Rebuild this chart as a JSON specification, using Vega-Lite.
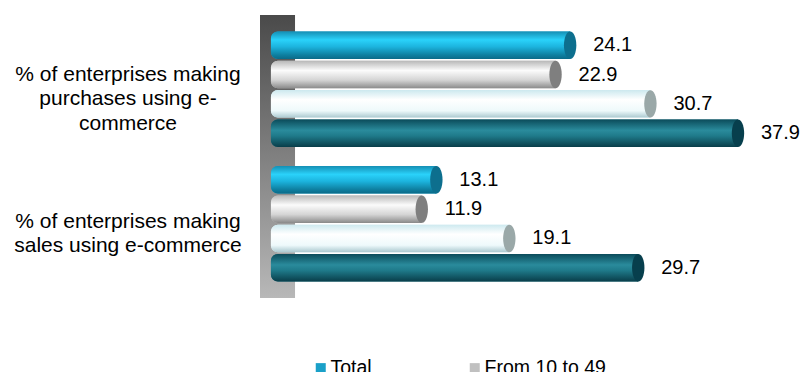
{
  "$schema": "https://vega.github.io/schema/vega-lite/v6.json",
  "width": 540,
  "height": 283,
  "autosize": {"type": "none"},
  "padding": {"left": 260, "top": 15, "right": 2, "bottom": 74},
  "background": "white",
  "config": {"view": {"stroke": null}, "font": "Liberation Sans"},
  "data": {
    "values": [
      {"indicator": "% of enterprises making|purchases using e-|commerce", "series": "Total", "value": 24.1},
      {"indicator": "% of enterprises making|purchases using e-|commerce", "series": "From 10 to 49", "value": 22.9},
      {"indicator": "% of enterprises making|purchases using e-|commerce", "series": "From 50 to 249", "value": 30.7},
      {"indicator": "% of enterprises making|purchases using e-|commerce", "series": "250 and more", "value": 37.9},
      {"indicator": "% of enterprises making|sales using e-commerce", "series": "Total", "value": 13.1},
      {"indicator": "% of enterprises making|sales using e-commerce", "series": "From 10 to 49", "value": 11.9},
      {"indicator": "% of enterprises making|sales using e-commerce", "series": "From 50 to 249", "value": 19.1},
      {"indicator": "% of enterprises making|sales using e-commerce", "series": "250 and more", "value": 29.7}
    ]
  },
  "resolve": {"scale": {"fill": "independent"}},
  "layer": [
    {
      "data": {"values": [{"part": "wall"}]},
      "mark": {
        "type": "rect",
        "fill": {"gradient": "linear", "x1": 0, "y1": 0, "x2": 0, "y2": 1,
          "stops": [{"offset": 0, "color": "#4a4a4a"}, {"offset": 0.5, "color": "#808080"}, {"offset": 1, "color": "#b8b8b8"}]}
      },
      "encoding": {
        "x": {"datum": -1.4, "type": "quantitative", "scale": {"domain": [-1.4, 43], "nice": false, "zero": false}, "axis": null},
        "x2": {"datum": 1.48},
        "y": {"value": 0},
        "y2": {"value": "height"}
      }
    },
    {
      "mark": {"type": "bar", "cornerRadiusTopLeft": 7, "cornerRadiusBottomLeft": 7},
      "encoding": {
        "y": {"field": "indicator", "type": "nominal", "sort": null,
          "scale": {"paddingInner": 0.13, "paddingOuter": 0.117},
          "axis": {"title": null, "domain": false, "ticks": false, "labelPadding": 132.5, "labelAlign": "center",
            "labelBaseline": "middle", "labelFontSize": 21, "labelColor": "#000", "labelLineHeight": 24.5,
            "labelOffset": {"condition": {"test": "indexof(datum.value, 'purchases') >= 0", "value": -14.5}, "value": -2.25},
            "labelLimit": 0, "labelExpr": "split(datum.label, '|')"}},
        "yOffset": {"field": "series", "type": "nominal", "sort": null,
          "scale": {"domain": ["Total", "From 10 to 49", "From 50 to 249", "250 and more"], "paddingInner": 0.06, "paddingOuter": 0.03}},
        "x": {"field": "value", "type": "quantitative", "axis": null},
        "x2": {"datum": -0.5},
        "color": {"field": "series", "type": "nominal",
          "scale": {"domain": ["Total", "From 10 to 49", "From 50 to 249", "250 and more"], "range": ["#1aa0c8", "#c0c0c0", "#dff3f7", "#1b6f80"]},
          "legend": {"title": null, "orient": "none", "legendX": 51, "legendY": 343, "direction": "horizontal", "columns": 2,
            "columnPadding": 2, "rowPadding": 8, "symbolType": "square", "symbolSize": 100, "symbolStrokeWidth": 0,
            "labelFontSize": 19.5, "labelOffset": 0, "labelColor": "#000", "padding": 0, "labelLimit": 0}}
      }
    },
    {
      "transform": [{"filter": "datum.series === 'Total'"}],
      "mark": {"type": "bar", "cornerRadiusTopLeft": 7, "cornerRadiusBottomLeft": 7,
        "fill": {"gradient": "linear", "x1": 0, "y1": 0, "x2": 0, "y2": 1,
          "stops": [{"offset": 0, "color": "#1590b5"}, {"offset": 0.3, "color": "#2ad2fa"}, {"offset": 0.55, "color": "#1cb4de"}, {"offset": 0.85, "color": "#0e7fa0"}, {"offset": 1, "color": "#0a6a88"}]}},
      "encoding": {
        "y": {"field": "indicator", "type": "nominal", "sort": null},
        "yOffset": {"field": "series", "type": "nominal", "sort": null},
        "x": {"field": "value", "type": "quantitative"},
        "x2": {"datum": -0.5}
      }
    },
    {
      "transform": [{"filter": "datum.series === 'From 10 to 49'"}],
      "mark": {"type": "bar", "cornerRadiusTopLeft": 7, "cornerRadiusBottomLeft": 7,
        "fill": {"gradient": "linear", "x1": 0, "y1": 0, "x2": 0, "y2": 1,
          "stops": [{"offset": 0, "color": "#b8b8b8"}, {"offset": 0.35, "color": "#fbfbfb"}, {"offset": 0.7, "color": "#d4d4d4"}, {"offset": 1, "color": "#8a8a8a"}]}},
      "encoding": {
        "y": {"field": "indicator", "type": "nominal", "sort": null},
        "yOffset": {"field": "series", "type": "nominal", "sort": null},
        "x": {"field": "value", "type": "quantitative"},
        "x2": {"datum": -0.5}
      }
    },
    {
      "transform": [{"filter": "datum.series === 'From 50 to 249'"}],
      "mark": {"type": "bar", "cornerRadiusTopLeft": 7, "cornerRadiusBottomLeft": 7,
        "fill": {"gradient": "linear", "x1": 0, "y1": 0, "x2": 0, "y2": 1,
          "stops": [{"offset": 0, "color": "#cde9ef"}, {"offset": 0.35, "color": "#ffffff"}, {"offset": 0.75, "color": "#eef9fb"}, {"offset": 1, "color": "#abc9d0"}]}},
      "encoding": {
        "y": {"field": "indicator", "type": "nominal", "sort": null},
        "yOffset": {"field": "series", "type": "nominal", "sort": null},
        "x": {"field": "value", "type": "quantitative"},
        "x2": {"datum": -0.5}
      }
    },
    {
      "transform": [{"filter": "datum.series === '250 and more'"}],
      "mark": {"type": "bar", "cornerRadiusTopLeft": 7, "cornerRadiusBottomLeft": 7,
        "fill": {"gradient": "linear", "x1": 0, "y1": 0, "x2": 0, "y2": 1,
          "stops": [{"offset": 0, "color": "#0b4b5a"}, {"offset": 0.4, "color": "#2a8b9c"}, {"offset": 0.6, "color": "#1f7a8a"}, {"offset": 1, "color": "#093e4a"}]}},
      "encoding": {
        "y": {"field": "indicator", "type": "nominal", "sort": null},
        "yOffset": {"field": "series", "type": "nominal", "sort": null},
        "x": {"field": "value", "type": "quantitative"},
        "x2": {"datum": -0.5}
      }
    },
    {
      "mark": {"type": "point", "filled": true, "opacity": 1, "strokeWidth": 0,
        "shape": "M0,-1A0.45,1 0 1,1 0,1A0.45,1 0 1,1 0,-1Z", "size": 756},
      "encoding": {
        "y": {"field": "indicator", "type": "nominal", "sort": null},
        "yOffset": {"field": "series", "type": "nominal", "sort": null},
        "x": {"field": "value", "type": "quantitative"},
        "fill": {"field": "series", "type": "nominal", "legend": null,
          "scale": {"domain": ["Total", "From 10 to 49", "From 50 to 249", "250 and more"], "range": ["#0d6f8e", "#7f7f7f", "#9aa8a8", "#073f4d"]}}
      }
    },
    {
      "mark": {"type": "text", "align": "left", "baseline": "middle", "dx": 23, "fontSize": 20, "color": "#000"},
      "encoding": {
        "y": {"field": "indicator", "type": "nominal", "sort": null},
        "yOffset": {"field": "series", "type": "nominal", "sort": null},
        "x": {"field": "value", "type": "quantitative"},
        "text": {"field": "value", "type": "quantitative", "format": ".1f"}
      }
    }
  ]
}
